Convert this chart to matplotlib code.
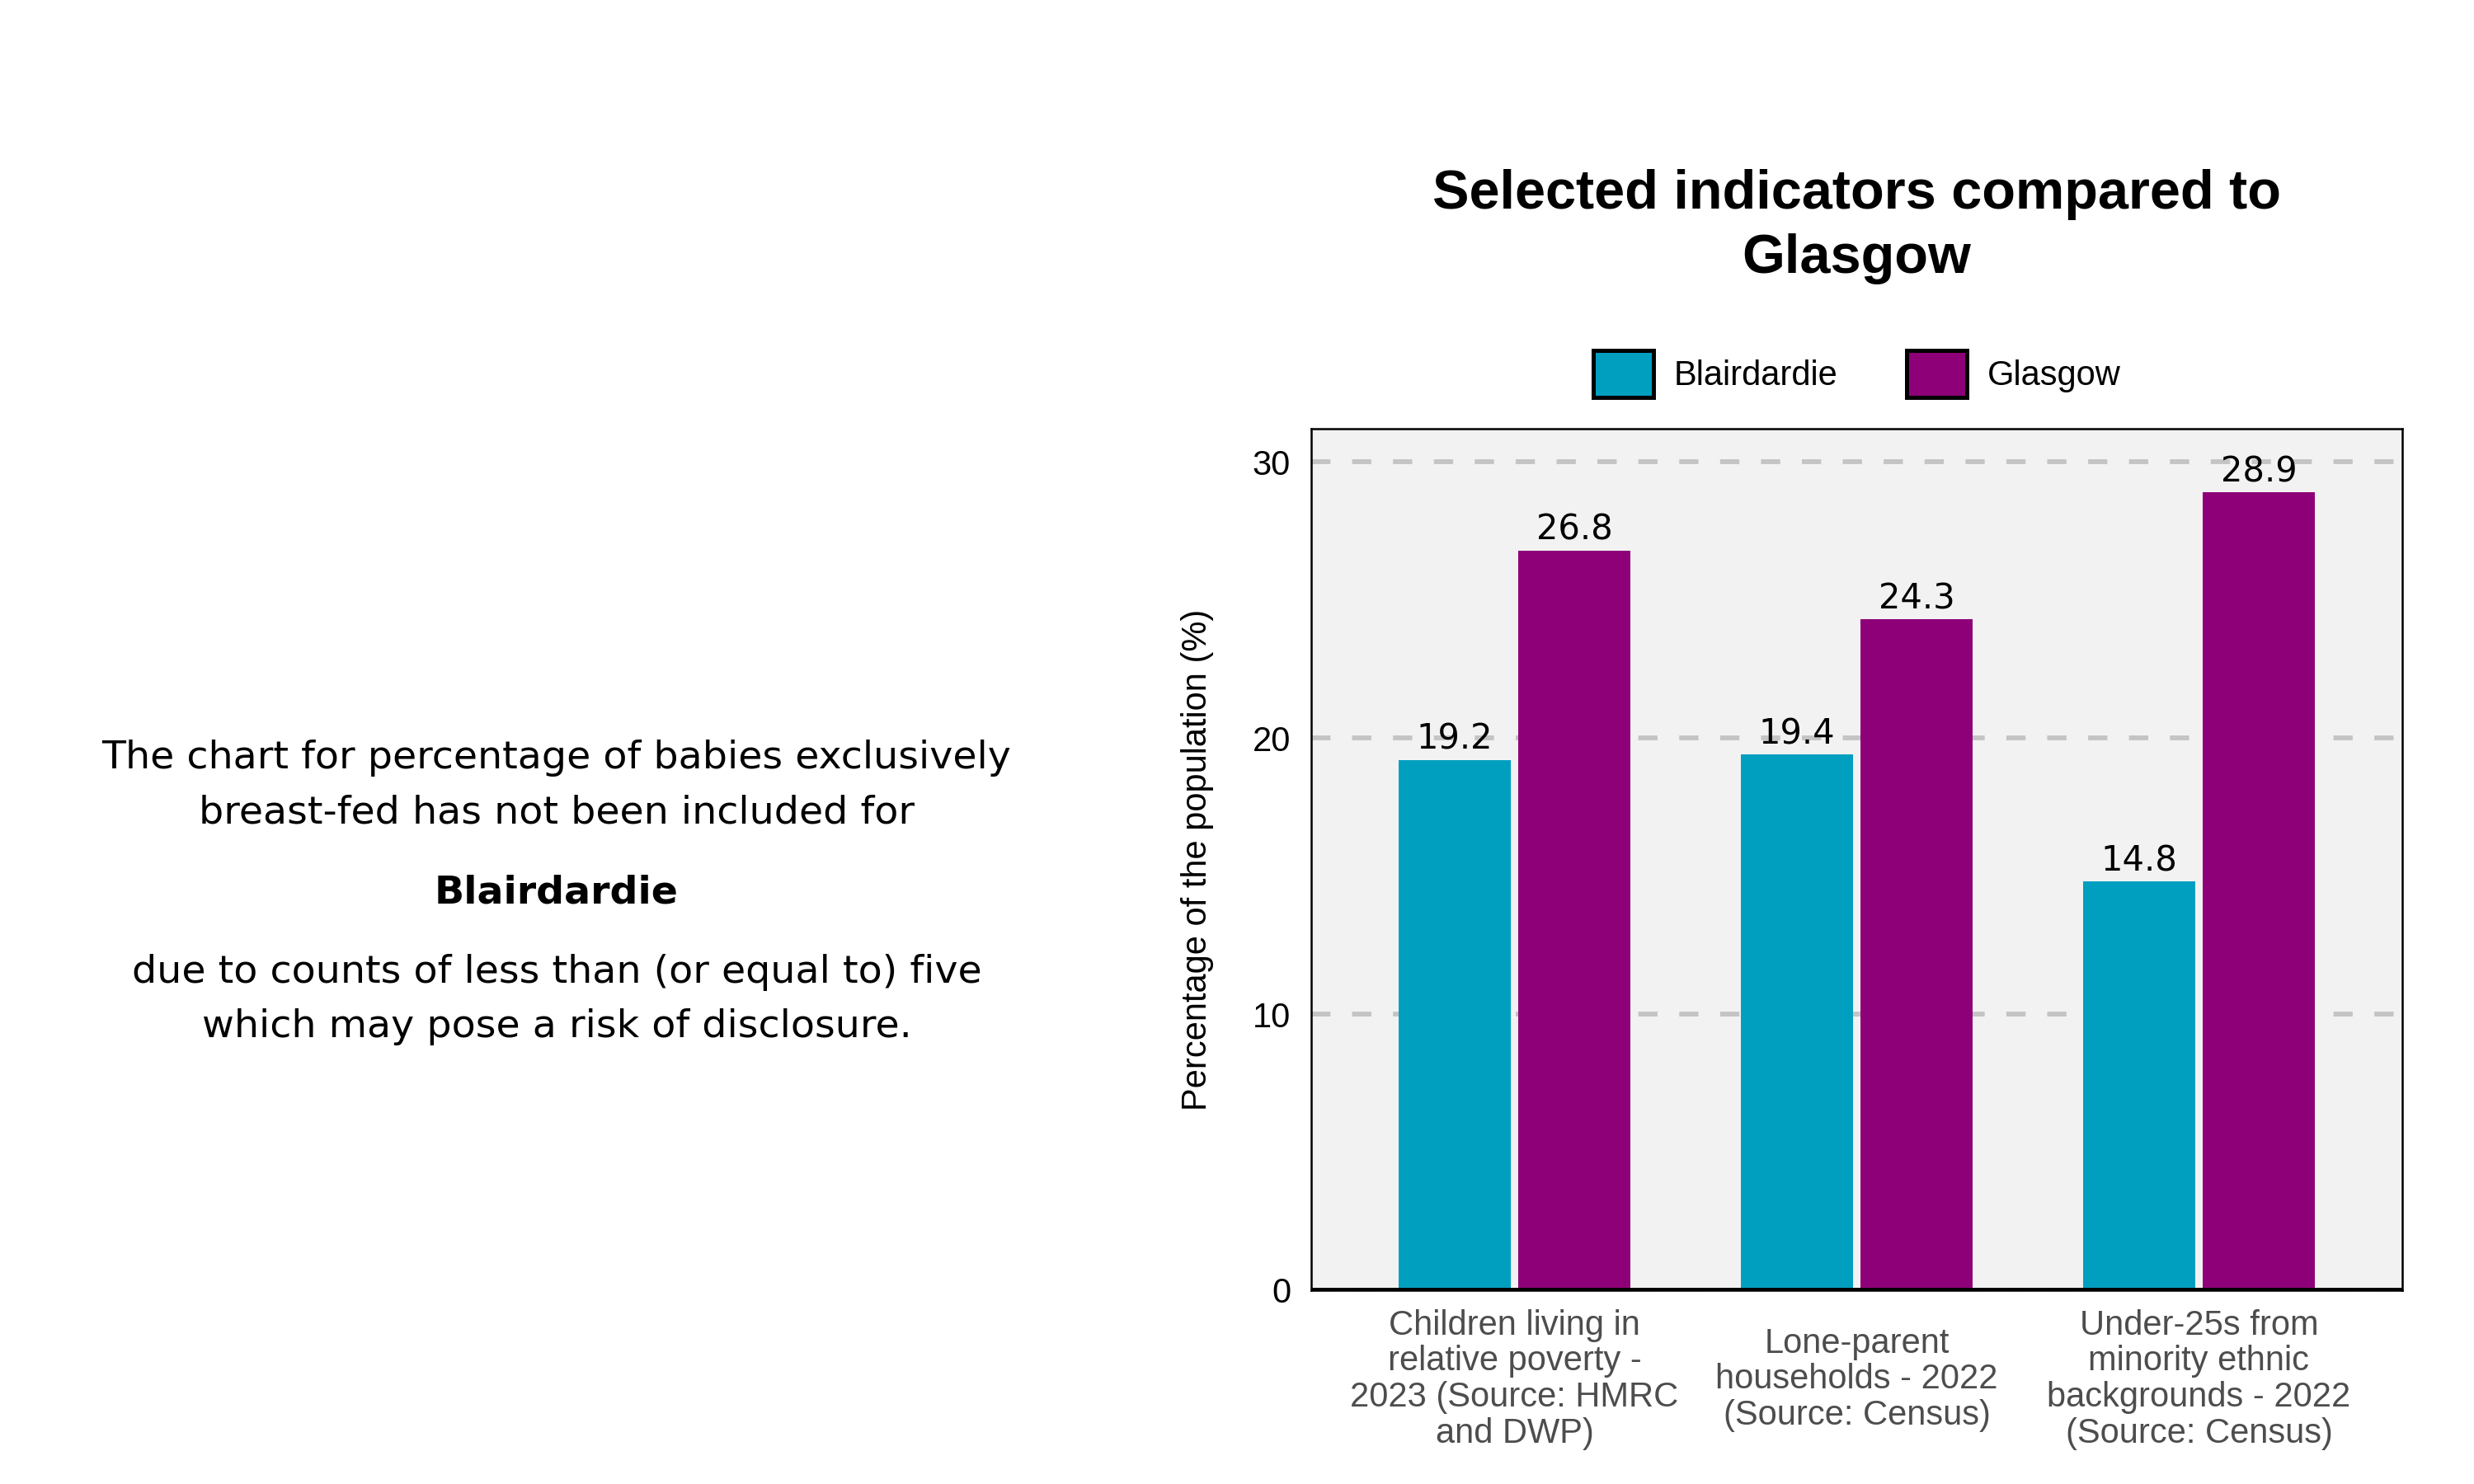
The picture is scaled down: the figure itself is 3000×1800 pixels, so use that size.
import matplotlib
matplotlib.use("Agg")
import matplotlib.pyplot as plt
import numpy as np
from matplotlib.patches import Patch

categories = [
    "Children living in\nrelative poverty -\n2023 (Source: HMRC\nand DWP)",
    "Lone-parent\nhouseholds - 2022\n(Source: Census)",
    "Under-25s from\nminority ethnic\nbackgrounds - 2022\n(Source: Census)",
]
series_names = ["Blairdardie", "Glasgow"]
blairdardie = [19.2, 19.4, 14.8]
glasgow = [26.8, 24.3, 28.9]
yticks = [0, 10, 20, 30]
colors = ["#009FC0", "#8E0078"]

title = "Selected indicators compared to\nGlasgow"
ylabel = "Percentage of the population (%)"
note_top = "The chart for percentage of babies exclusively\nbreast-fed has not been included for"
note_bold = "Blairdardie"
note_bottom = "due to counts of less than (or equal to) five\nwhich may pose a risk of disclosure."

SANS = "Liberation Sans"

fig = plt.figure(figsize=(10, 6), dpi=300)
ax = fig.add_axes([0.530, 0.1306, 0.441, 0.5804])
ax.set_facecolor("#F2F2F2")

x = np.arange(len(categories))
w = 0.327
off = 0.175
b1 = ax.bar(x - off, blairdardie, width=w, color=colors[0], zorder=3)
b2 = ax.bar(x + off, glasgow, width=w, color=colors[1], zorder=3)
for bars in (b1, b2):
    ax.bar_label(bars, fmt="%.1f", padding=1, fontsize=10,
                 family="DejaVu Sans", color="black", zorder=4)

ax.set_xlim(-0.594, 2.594)
ax.set_ylim(0, 31.2)
ax.set_yticks(yticks)
ax.set_yticklabels([str(t) for t in yticks], family=SANS, fontsize=10)
ax.tick_params(axis="y", length=0, pad=6)
ax.set_xticks(x)
ax.set_xticklabels(categories, family=SANS, fontsize=10, color="#4D4D4D",
                   va="center", multialignment="center", linespacing=1.12)
ax.tick_params(axis="x", length=0, pad=26)

ax.grid(axis="y", color="#C4C4C4", linewidth=1.4, linestyle=(0, (4, 4.5)), zorder=1)
ax.axhline(0, color="black", linewidth=1.4, zorder=5)
for s in ax.spines.values():
    s.set_linewidth(0.6)
    s.set_color("black")

ax.set_ylabel(ylabel, family=SANS, fontsize=10)
ax.yaxis.set_label_coords(-0.089, 0.5)

handles = [Patch(facecolor=c, edgecolor="black", linewidth=1.2) for c in colors]
ax.legend(handles, series_names, loc="center", bbox_to_anchor=(0.5, 1.064),
          ncol=2, frameon=False, prop={"family": SANS, "size": 10},
          handlelength=1.75, handleheight=1.75, handletextpad=0.6,
          columnspacing=2.0)

fig.text(0.7505, 0.847, title, ha="center", va="center", family=SANS,
         fontsize=16, fontweight="bold", linespacing=1.33)

fig.text(0.225, 0.4708, note_top, ha="center", va="center", family="DejaVu Sans",
         fontsize=11.4, linespacing=1.6)
fig.text(0.225, 0.3985, note_bold, ha="center", va="center", family="DejaVu Sans",
         fontsize=11.4, fontweight="bold")
fig.text(0.225, 0.3262, note_bottom, ha="center", va="center", family="DejaVu Sans",
         fontsize=11.4, linespacing=1.6)

fig.savefig("out.png", dpi=300, facecolor="white")
